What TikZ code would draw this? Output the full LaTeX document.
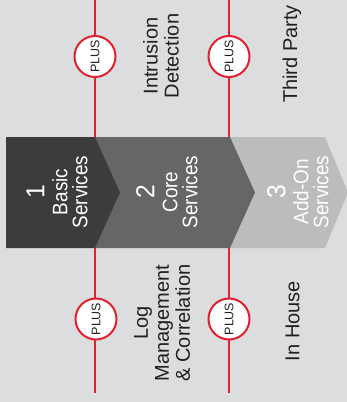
\documentclass[tikz,border=0pt]{standalone}
\usepackage{fontspec}
\setmainfont{Liberation Sans}
\definecolor{bg}{HTML}{DCDDDF}
\definecolor{cdark}{HTML}{3C3C3C}
\definecolor{cmid}{HTML}{656668}
\definecolor{clight}{HTML}{BBBCBE}
\definecolor{plusred}{HTML}{E3202F}
\definecolor{txt}{HTML}{231F20}
\newcommand{\cnum}[1]{\scalebox{0.95}[1]{\fontsize{26}{26}\selectfont #1}}
\newcommand{\cw}[1]{\scalebox{0.9}[1]{#1}}
\begin{document}
\begin{tikzpicture}[x=1pt,y=-1pt,
  redline/.style={draw=plusred,line width=2pt},
  pluscircle/.style={circle,draw=plusred,line width=2pt,fill=white,minimum size=41pt,inner sep=0pt,
    font=\fontsize{12.5}{13}\selectfont,text=txt},
  label/.style={rotate=90,align=center,text=txt,font=\fontsize{20}{21}\selectfont,inner sep=0pt},
  chevtext/.style={rotate=90,align=center,text=white,font=\fontsize{21}{20}\selectfont,inner sep=0pt}]
\fill[bg] (0,0) rectangle (347,402);
\useasboundingbox (0,0) rectangle (347,402);
% red lines
\coordinate (t1) at (95,0);
\coordinate (t2) at (229,0);
\coordinate (b1) at (95,393);
\coordinate (b2) at (229,393);
\coordinate (m1a) at (95,137);
\coordinate (m2a) at (229,137);
\coordinate (m1b) at (95,248);
\coordinate (m2b) at (229,248);
\draw[redline] (t1) -- (m1a);
\draw[redline] (t2) -- (m2a);
\draw[redline] (m1b) -- (b1);
\draw[redline] (m2b) -- (b2);
% chevrons
\fill[clight] (229,137) -- (325,137) -- (348,192.5) -- (325,248) -- (229,248) -- cycle;
\fill[cmid] (95,137) -- (230,137) -- (255,192.5) -- (230,248) -- (95,248) -- cycle;
\fill[cdark] (6,137) -- (95,137) -- (120,192.5) -- (95,248) -- (6,248) -- cycle;
\node[chevtext] (c1) at (57,192) {\cnum{1}\\[3pt]\cw{Basic}\\\cw{Services}};
\node[chevtext] (c2) at (167,192) {\cnum{2}\\[3pt]\cw{Core}\\\cw{Services}};
\node[chevtext] (c3) at (298,192) {\cnum{3}\\[3pt]\cw{Add-On}\\\cw{Services}};
% plus circles
\node[pluscircle] (p1) at (95,56.5) {\rotatebox{90}{PLUS}};
\node[pluscircle] (p2) at (229,56.5) {\rotatebox{90}{PLUS}};
\node[pluscircle] (p3) at (96,319) {\rotatebox{90}{PLUS}};
\node[pluscircle] (p4) at (229,319) {\rotatebox{90}{PLUS}};
% labels
\node[label] (l1) at (161,56) {Intrusion\\Detection};
\node[label] (l2) at (292,54) {Third Party};
\node[label] (l3) at (162,323) {Log\\Management\\\& Correlation};
\node[label] (l4) at (292.5,321) {In House};
\end{tikzpicture}
\end{document}
